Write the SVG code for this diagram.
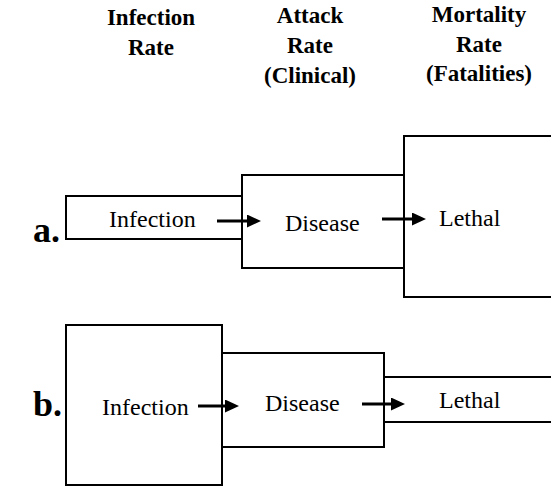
<svg xmlns="http://www.w3.org/2000/svg" width="551" height="487" viewBox="0 0 551 487">
<style>
.hdr{font-family:"Liberation Serif","Times New Roman",serif;font-weight:700;font-size:23px;fill:#000;text-anchor:middle}
.lbl{font-family:"Liberation Serif","Times New Roman",serif;font-size:24px;fill:#000}
.row{font-family:"Liberation Serif","Times New Roman",serif;font-weight:700;font-size:36px;fill:#000}
.box{fill:none;stroke:#000;stroke-width:2}
.arr{stroke:#000;stroke-width:3;fill:none;marker-end:url(#ah)}
</style>
<defs>
<marker id="ah" viewBox="0 0 14 13" markerWidth="14" markerHeight="13" refX="4" refY="6.5" orient="auto" markerUnits="userSpaceOnUse">
<path d="M0,0 L14,6.5 L0,13 z" fill="#000"/>
</marker>
</defs>
<rect width="551" height="487" fill="#fff"/>
<g id="headers">
<text class="hdr" x="151" y="25">Infection</text>
<text class="hdr" x="151" y="55">Rate</text>
<text class="hdr" x="310" y="23">Attack</text>
<text class="hdr" x="310" y="53">Rate</text>
<text class="hdr" x="310" y="83">(Clinical)</text>
<text class="hdr" x="479" y="22">Mortality</text>
<text class="hdr" x="479" y="52">Rate</text>
<text class="hdr" x="479" y="81">(Fatalities)</text>
</g>
<text class="row" x="33" y="242">a.</text>
<text class="row" x="33" y="416">b.</text>
<g id="a-infection"><rect class="box" x="66" y="196" width="176" height="43"/><text class="lbl" x="109" y="227">Infection</text></g>
<g id="a-disease"><rect class="box" x="242" y="175" width="162" height="93"/><text class="lbl" x="285" y="231">Disease</text></g>
<g id="a-lethal"><rect class="box" x="404" y="136" width="160" height="161"/><text class="lbl" x="439" y="226">Lethal</text></g>
<g id="b-infection"><rect class="box" x="66" y="325" width="156" height="160"/><text class="lbl" x="102" y="415">Infection</text></g>
<g id="b-disease"><rect class="box" x="222" y="353" width="162" height="94"/><text class="lbl" x="265" y="411">Disease</text></g>
<g id="b-lethal"><rect class="box" x="384" y="377" width="180" height="45"/><text class="lbl" x="439" y="408">Lethal</text></g>
<g id="connectors">
<line class="arr" x1="217" y1="221" x2="251" y2="221"/>
<line class="arr" x1="382" y1="219" x2="416" y2="219"/>
<line class="arr" x1="198" y1="406" x2="229" y2="406"/>
<line class="arr" x1="362" y1="404" x2="395" y2="404"/>
</g>
</svg>
